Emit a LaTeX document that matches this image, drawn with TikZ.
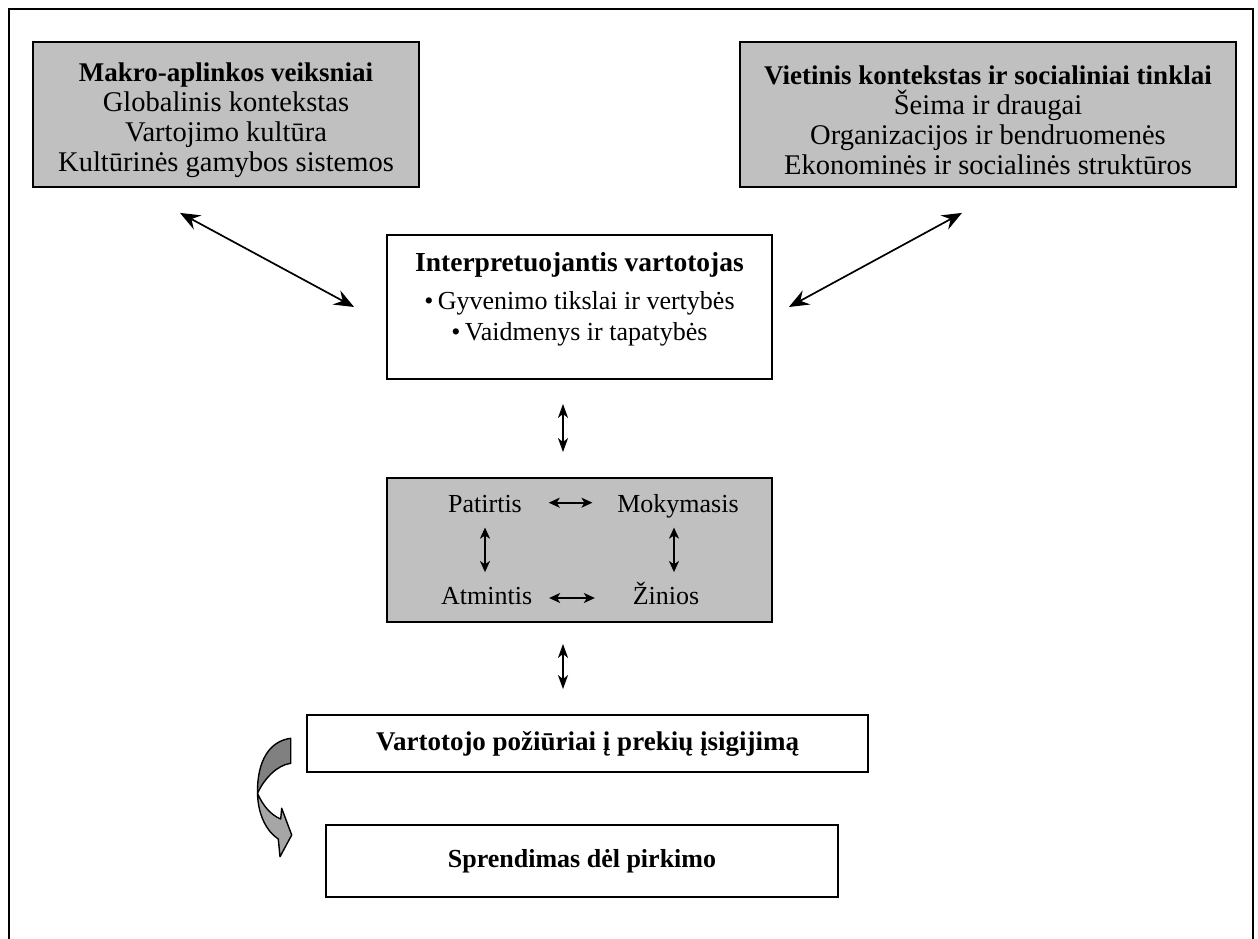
\documentclass[tikz,border=0pt]{standalone}
\usepackage{fontspec}
\setmainfont{Liberation Serif}
\usetikzlibrary{arrows.meta}

\definecolor{pilka}{HTML}{C0C0C0}
\definecolor{tamsi}{HTML}{808080}
\definecolor{sviesi}{HTML}{A6A6A6}

\begin{document}
\begin{tikzpicture}[x=1pt, y=-1pt, line width=1.8pt,
  blokas/.style={draw, rectangle, inner sep=0pt, align=center},
  pilkas/.style={blokas, fill=pilka},
  virsus/.style={font=\fontsize{28.5pt}{30pt}\selectfont},
  tekstas/.style={inner sep=0pt, text height=17pt, text depth=5pt, font=\fontsize{26pt}{30pt}\selectfont},
  ilga/.style={<->, >={Stealth[length=20pt, width=16pt, inset=7pt]}, line width=1.7pt},
  vid/.style={<->, >={Stealth[length=14pt, width=10pt, inset=4pt]}, line width=1.7pt},
  maza/.style={<->, >={Stealth[length=11pt, width=10pt, inset=3pt]}, line width=1.6pt}]
  \useasboundingbox (0,0) rectangle (1258,939);
  % remelis
  \draw (9,939) -- (9,9) -- (1253,9) -- (1253,939);
  % virsutiniai blokai
  \node[pilkas, virsus, minimum width=386pt, minimum height=145pt] (makro) at (226,114.5)
    {{\bfseries\fontsize{27pt}{30pt}\selectfont\rule{0pt}{31pt}Makro-aplinkos veiksniai}\\Globalinis kontekstas\\Vartojimo kultūra\\Kultūrinės gamybos sistemos};
  \node[pilkas, virsus, minimum width=496pt, minimum height=145pt] (vietinis) at (988,114.5)
    {{\bfseries\fontsize{27pt}{30pt}\selectfont\rule{0pt}{31pt}Vietinis kontekstas ir socialiniai tinklai}\\Šeima ir draugai\\Organizacijos ir bendruomenės\\Ekonominės ir socialinės struktūros};
  % vartotojas
  \node[blokas, minimum width=385pt, minimum height=144pt, font=\fontsize{26pt}{31pt}\selectfont] (interp) at (579.5,307)
    {{\bfseries\fontsize{27.5pt}{31pt}\selectfont Interpretuojantis vartotojas}\\[7pt]
     \textbullet\,Gyvenimo tikslai ir vertybės\\
     \textbullet\,Vaidmenys ir tapatybės\rule[-22pt]{0pt}{0pt}};
  % patirtis ir ziniu blokas
  \node[pilkas, minimum width=385pt, minimum height=144pt] (patirtys) at (579.5,550) {};
  \node[tekstas, anchor=base] (patirtis) at (485,512.7) {Patirtis};
  \node[tekstas, anchor=base] (mokymasis) at (678,512.7) {Mokymasis};
  \node[tekstas, anchor=base] (atmintis) at (486.7,604) {Atmintis};
  \node[tekstas, anchor=base] (zinios) at (666,604) {Žinios};
  % apatiniai blokai
  \node[blokas, minimum width=561pt, minimum height=57pt, font=\bfseries\fontsize{27pt}{30pt}\selectfont] (pozirai) at (587.5,743.5)
    {Vartotojo požiūriai į prekių įsigijimą};
  \node[blokas, minimum width=512pt, minimum height=72pt, font=\bfseries\fontsize{26pt}{30pt}\selectfont] (sprendimas) at (582,861)
    {Sprendimas dėl pirkimo};
  % rodykles
  \draw[ilga] ([shift={(-46,25)}]makro.south) -- ([shift={(-32,0)}]interp.west);
  \draw[ilga] ([shift={(-26,25)}]vietinis.south) -- ([shift={(16,0)}]interp.east);
  \draw[vid, shorten <=24pt, shorten >=25pt] ([shift={(-16.5,0)}]interp.south) -- ([shift={(-16.5,0)}]patirtys.north);
  \draw[vid, shorten <=21pt, shorten >=25pt] ([shift={(-16.5,0)}]patirtys.south) -- ([shift={(-16.5,0)}]patirtys.south |- pozirai.north);
  \draw[maza, shorten <=26pt, shorten >=24pt] ([shift={(0,-4)}]patirtis.east) -- ([shift={(0,-4)}]mokymasis.west);
  \draw[maza, shorten <=16pt, shorten >=37pt] (atmintis.east) -- (zinios.west);
  \draw[maza, shorten <=9pt, shorten >=14pt] (patirtis.south) -- (patirtis.south |- atmintis.north);
  \draw[maza, shorten <=9pt, shorten >=14pt] ([shift={(-4,0)}]mokymasis.south) -- ([shift={(-4,0)}]mokymasis.south |- zinios.north);
  % lenkta rodykle
  \draw[fill=tamsi, line width=1.4pt, line join=round] (290.7,738.3) .. controls (270,741) and (257,760) .. (257.5,793.3)
    .. controls (264,779) and (277,765) .. (290.7,763.3) -- cycle;
  \draw[fill=sviesi, line width=1.4pt, line join=round] (257.5,793.3) .. controls (258,814) and (266,831) .. (278.3,839)
    -- (280,856.7) -- (291.7,835) -- (281.7,808.3) -- (280.7,819)
    .. controls (271,815) and (263,806) .. (257.5,793.3) -- cycle;
\end{tikzpicture}
\end{document}
